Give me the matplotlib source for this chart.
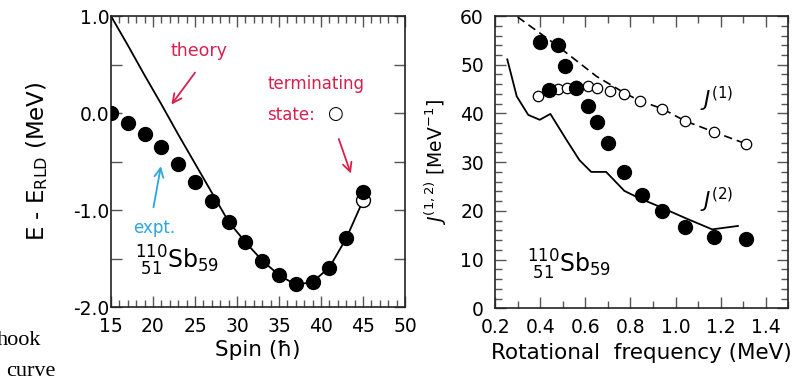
import matplotlib
matplotlib.use("Agg")
import matplotlib.pyplot as plt
from matplotlib.ticker import MultipleLocator

plt.rcParams['font.family'] = ['DejaVu Sans']
plt.rcParams['mathtext.fontset'] = 'dejavusans'

# ---- Left panel data ----
spin = [15, 17, 19, 21, 23, 25, 27, 29, 31, 33, 35, 37, 39, 41, 43, 45]
expt_e = [0.00, -0.10, -0.22, -0.35, -0.52, -0.71, -0.91, -1.12, -1.33, -1.52,
          -1.67, -1.76, -1.74, -1.60, -1.29, -0.81]
theory_e = [1.00, 0.70, 0.39, 0.09, -0.22, -0.52, -0.82, -1.12, -1.33, -1.52,
            -1.67, -1.77, -1.74, -1.59, -1.29, -0.90]
term_spin = [45]
term_e = [-0.90]

# ---- Right panel data ----
w_j2 = [0.40, 0.48, 0.51, 0.44, 0.56, 0.61, 0.65, 0.70, 0.77, 0.85, 0.94, 1.04, 1.17, 1.31]
j2 = [54.7, 54.1, 49.7, 44.8, 45.2, 41.6, 38.2, 33.9, 28.0, 23.3, 20.0, 16.7, 14.6, 14.2]
w_j1 = [0.39, 0.44, 0.48, 0.52, 0.56, 0.61, 0.65, 0.71, 0.77, 0.84, 0.94, 1.04, 1.17, 1.31]
j1 = [43.6, 44.6, 45.1, 45.3, 45.6, 45.6, 45.3, 44.6, 43.9, 42.6, 41.0, 38.5, 36.2, 33.8]
w_j1_th = [0.30, 0.47, 0.65, 0.77, 0.84, 0.94, 1.04, 1.17, 1.31]
j1_th = [59.8, 54.1, 47.6, 44.3, 42.6, 41.0, 38.5, 36.2, 33.8]
w_j2_th = [0.254, 0.296, 0.347, 0.398, 0.445, 0.516, 0.574, 0.626, 0.692, 0.773,
           0.839, 0.927, 1.044, 1.162, 1.276]
j2_th = [51.1, 43.5, 39.7, 38.7, 39.9, 34.6, 30.4, 28.0, 28.0, 24.1,
         22.6, 20.9, 18.5, 16.2, 16.9]

red = '#d8204e'
cyan = '#2aa7df'
tickcol = '#555555'

fig = plt.figure(figsize=(8.07, 3.82), dpi=100)
ax1 = fig.add_axes([0.1375, 0.196, 0.3645, 0.762])
ax2 = fig.add_axes([0.6135, 0.193, 0.3635, 0.765])

for ax in (ax1, ax2):
    for s in ax.spines.values():
        s.set_linewidth(1.2)
        s.set_color('#222222')
    ax.tick_params(which='both', direction='in', top=True, right=True,
                   color=tickcol, labelsize=13.5)
    ax.tick_params(which='major', length=8, width=1.0)
    ax.tick_params(which='minor', length=5, width=1.0)

# Left panel
ax1.plot(spin, theory_e, '-', color='black', lw=1.3, zorder=2)
ax1.plot(spin, expt_e, 'o', color='black', ms=10, zorder=3)
ax1.plot(term_spin, term_e, 'o', mfc='white', mec='black', mew=1.0, ms=10, zorder=2.5)
ax1.set_xlim(15, 50)
ax1.set_ylim(-2.0, 1.0)
ax1.xaxis.set_major_locator(MultipleLocator(5))
ax1.xaxis.set_minor_locator(MultipleLocator(1))
ax1.yaxis.set_minor_locator(MultipleLocator(0.5))
ax1.tick_params(which='minor', axis='y', length=8)
ax1.set_yticks([-2.0, -1.0, 0.0, 1.0])
ax1.set_yticklabels(['-2.0', '-1.0', '0.0', '1.0'])
ax1.tick_params(axis='y', pad=1)
ax1.tick_params(axis='x', pad=7)
ax1.set_xlabel('Spin (ħ)', fontsize=15.5, labelpad=3)
ax1.set_ylabel(r'E - E$_{\mathrm{RLD}}$ (MeV)', fontsize=16.5, labelpad=17)

ax1.text(25.5, 0.64, 'theory', color=red, fontsize=12.5, ha='center', va='center')
ax1.annotate('', xy=(22.0, 0.065), xytext=(25.2, 0.44),
             arrowprops=dict(arrowstyle='->', color=red, lw=1.3, mutation_scale=16))
ax1.text(33.6, 0.30, 'terminating', color=red, fontsize=12, ha='left', va='center')
ax1.text(33.6, -0.015, 'state:', color=red, fontsize=12, ha='left', va='center')
ax1.text(41.7, -0.01, '○', color='black', fontsize=13, ha='center', va='center')
ax1.annotate('', xy=(43.65, -0.65), xytext=(42.0, -0.24),
             arrowprops=dict(arrowstyle='->', color=red, lw=1.3, mutation_scale=16))
ax1.text(20.1, -1.18, 'expt.', color=cyan, fontsize=12, ha='center', va='center')
ax1.annotate('', xy=(21.0, -0.52), xytext=(20.0, -1.0),
             arrowprops=dict(arrowstyle='->', color=cyan, lw=1.3, mutation_scale=16))
ax1.text(17.9, -1.52, r'${}^{110}_{\ 51}\mathrm{Sb}_{59}$', fontsize=17,
         ha='left', va='center')

# Right panel
ax2.plot(w_j1_th, j1_th, '--', color='black', lw=1.2, dashes=(5, 3), zorder=2)
ax2.plot(w_j2_th, j2_th, '-', color='black', lw=1.3, zorder=2)
ax2.plot(w_j1, j1, 'o', mfc='white', mec='black', mew=0.9, ms=7.5, zorder=3)
ax2.plot(w_j2, j2, 'o', color='black', ms=10, zorder=4)
ax2.set_xlim(0.2, 1.5)
ax2.set_ylim(0, 60)
ax2.xaxis.set_minor_locator(MultipleLocator(0.1))
ax2.yaxis.set_major_locator(MultipleLocator(10))
ax2.yaxis.set_minor_locator(MultipleLocator(2))
ax2.set_xticks([0.2, 0.4, 0.6, 0.8, 1.0, 1.2, 1.4])
ax2.set_xticklabels(['0.2', '0.4', '0.6', '0.8', '1.0', '1.2', '1.4'])
ax2.tick_params(axis='y', pad=8)
ax2.tick_params(axis='x', pad=7)
ax2.set_xlabel('Rotational  frequency (MeV)', fontsize=15.5, labelpad=4)
ax2.set_ylabel(r'$J^{(1,2)}$ [MeV$^{\mathrm{-1}}$]', fontsize=13.5, labelpad=8)

ax2.text(1.18, 42.8, r'$J^{(1)}$', fontsize=15.5, ha='center', va='center')
ax2.text(1.18, 22.2, r'$J^{(2)}$', fontsize=15.5, ha='center', va='center')
ax2.text(0.34, 8.9, r'${}^{110}_{\ 51}\mathrm{Sb}_{59}$', fontsize=17,
         ha='left', va='center')

# page remnants (partly cut at the left edge, as in the source)
fig.text(41 / 807, 1 - 345 / 382, 'hook', family=['Liberation Serif'], fontsize=16,
         ha='right', va='baseline')
fig.text(55 / 807, 1 - 376 / 382, 'curve', family=['Liberation Serif'], fontsize=16,
         ha='right', va='baseline')

fig.savefig('out.png', dpi=100)
